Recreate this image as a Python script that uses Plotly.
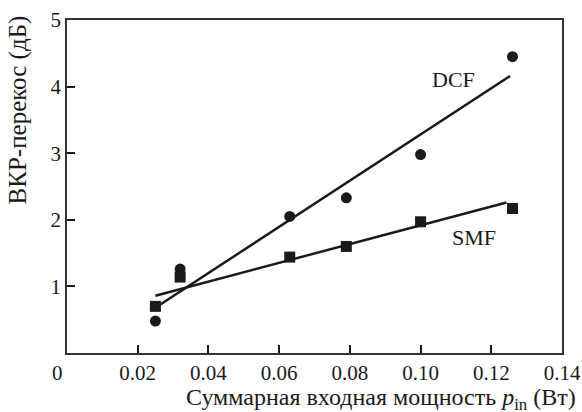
import plotly.graph_objects as go

# Data
power_w = [0.025, 0.032, 0.063, 0.079, 0.100, 0.126]
dcf_skew = [0.48, 1.26, 2.05, 2.33, 2.98, 4.45]
smf_skew = [0.70, 1.14, 1.44, 1.60, 1.97, 2.17]

dcf_fit_x = [0.025, 0.1253]
dcf_fit_y = [0.68, 4.16]
smf_fit_x = [0.025, 0.1243]
smf_fit_y = [0.86, 2.26]

x_ticks = [0.02, 0.04, 0.06, 0.08, 0.10, 0.12, 0.14]
x_ticktext = ["0.02", "0.04", "0.06", "0.08", "0.10", "0.12", "0.14"]
y_ticks = [1, 2, 3, 4, 5]

FONT = "Liberation Serif"
INK = "#1a1a1a"

fig = go.Figure()
fig.add_trace(go.Scatter(x=dcf_fit_x, y=dcf_fit_y, mode="lines",
                         line=dict(color=INK, width=2.5), showlegend=False))
fig.add_trace(go.Scatter(x=smf_fit_x, y=smf_fit_y, mode="lines",
                         line=dict(color=INK, width=2.5), showlegend=False))
fig.add_trace(go.Scatter(x=power_w, y=dcf_skew, mode="markers",
                         marker=dict(symbol="circle", size=11, color=INK), showlegend=False))
fig.add_trace(go.Scatter(x=power_w, y=smf_skew, mode="markers",
                         marker=dict(symbol="square", size=11, color=INK), showlegend=False))

fig.add_annotation(x=0.1094, y=4.1, text="DCF", showarrow=False,
                   font=dict(family=FONT, size=22, color=INK))
fig.add_annotation(x=0.1152, y=1.73, text="SMF", showarrow=False,
                   font=dict(family=FONT, size=22, color=INK))
fig.add_annotation(x=0, y=0, xref="x", yref="y", text="0", showarrow=False,
                   xanchor="center", yanchor="top", xshift=-10, yshift=-6,
                   font=dict(family=FONT, size=21, color=INK))
# axis titles placed as in the reference
fig.add_annotation(x=0.634, y=-0.137, xref="paper", yref="paper",
                   text="Суммарная входная мощность <i>p</i><sub>in</sub> (Вт)",
                   showarrow=False, xanchor="center", yanchor="middle",
                   font=dict(family=FONT, size=24, color=INK))
fig.add_annotation(x=-0.1, y=0.73, xref="paper", yref="paper",
                   text="ВКР-перекос (дБ)", textangle=-90,
                   showarrow=False, xanchor="center", yanchor="middle",
                   font=dict(family=FONT, size=25, color=INK))

fig.update_xaxes(range=[0, 0.14], tickvals=x_ticks, ticktext=x_ticktext,
                 automargin=False,
                 ticks="inside", ticklen=8, tickwidth=1.5, tickcolor=INK,
                 showline=True, linecolor="#333333", linewidth=1.5, mirror=True,
                 showgrid=False, zeroline=False,
                 tickfont=dict(family=FONT, size=21, color=INK))
fig.update_yaxes(range=[0, 5], tickvals=y_ticks,
                 automargin=False,
                 ticks="inside", ticklen=8, tickwidth=1.5, tickcolor=INK,
                 showline=True, linecolor="#333333", linewidth=1.5, mirror=True,
                 showgrid=False, zeroline=False,
                 tickfont=dict(family=FONT, size=21, color=INK))

fig.update_layout(width=582, height=412, autosize=False,
                  plot_bgcolor="white", paper_bgcolor="white",
                  margin=dict(l=67, r=20, t=20, b=59))

fig.write_html("out.html",
               config={"displayModeBar": False, "responsive": False},
               post_script="document.body.style.margin='0';document.body.style.overflow='hidden';")
